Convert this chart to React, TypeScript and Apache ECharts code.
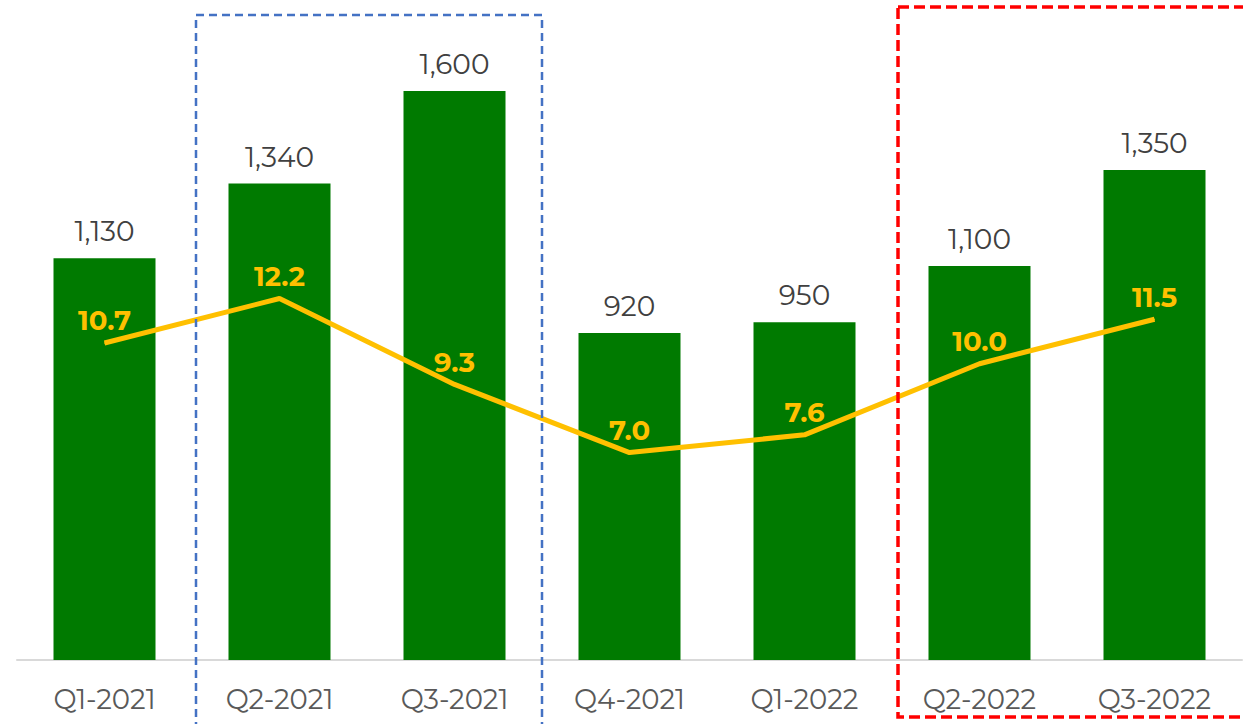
import React, { useEffect, useRef } from "react";
import * as echarts from "echarts";

const categories = ["Q1-2021", "Q2-2021", "Q3-2021", "Q4-2021", "Q1-2022", "Q2-2022", "Q3-2022"];
// bar heights as drawn in the picture
const barValues = [1130, 1340, 1600, 920, 950, 1108, 1378];
// bar label texts as printed in the picture
const barLabels = ["1,130", "1,340", "1,600", "920", "950", "1,100", "1,350"];
const lineValues = [10.7, 12.2, 9.3, 7.0, 7.6, 10.0, 11.5];

const FONT = "Montserrat, 'Open Sans', sans-serif";

export default function App() {
  const ref = useRef<HTMLDivElement>(null);
  useEffect(() => {
    document.body.style.margin = "0";
    const chart = echarts.init(ref.current!, null, { renderer: "svg" });
    chart.setOption({
      animation: false,
      backgroundColor: "#ffffff",
      grid: { left: 17, right: 1, top: 20, bottom: 64, containLabel: false },
      xAxis: {
        type: "category",
        data: categories,
        axisLine: { lineStyle: { color: "#d9d9d9", width: 2 } },
        axisTick: { show: false },
        axisLabel: { color: "#595959", fontSize: 27.5, fontFamily: FONT, margin: 25 },
      },
      yAxis: [
        { type: "value", min: 0, max: 1800, show: false, splitLine: { show: false } },
        { type: "value", min: 0, max: 21.6, show: false, splitLine: { show: false } },
      ],
      series: [
        {
          type: "bar",
          data: barValues,
          barWidth: 102,
          itemStyle: { color: "#007A00" },
          label: {
            show: true,
            position: "top",
            distance: 13,
            color: "#404040",
            fontSize: 28,
            fontFamily: FONT,
            formatter: (p: any) => barLabels[p.dataIndex],
          },
        },
        {
          type: "line",
          yAxisIndex: 1,
          data: lineValues,
          symbol: "circle",
          symbolSize: 1,
          itemStyle: { color: "#FFC000" },
          lineStyle: { color: "#FFC000", width: 5 },
          z: 5,
          label: {
            show: true,
            position: "top",
            distance: 8,
            color: "#FFC000",
            fontSize: 27.5,
            fontWeight: "bold",
            fontFamily: FONT,
            formatter: (p: any) => Number(p.value).toFixed(1),
          },
        },
      ],
      graphic: [
        {
          type: "rect",
          shape: { x: 196, y: 15, width: 346, height: 720 },
          style: { fill: "none", stroke: "#4472C4", lineWidth: 2.5, lineDash: [8, 5] },
          z: 100,
        },
        {
          type: "rect",
          shape: { x: 898, y: 7, width: 360, height: 710 },
          style: { fill: "none", stroke: "#FF0000", lineWidth: 3.5, lineDash: [11, 5] },
          z: 100,
        },
      ],
    });
    return () => chart.dispose();
  }, []);
  return <div ref={ref} style={{ width: 1243, height: 724 }} />;
}
